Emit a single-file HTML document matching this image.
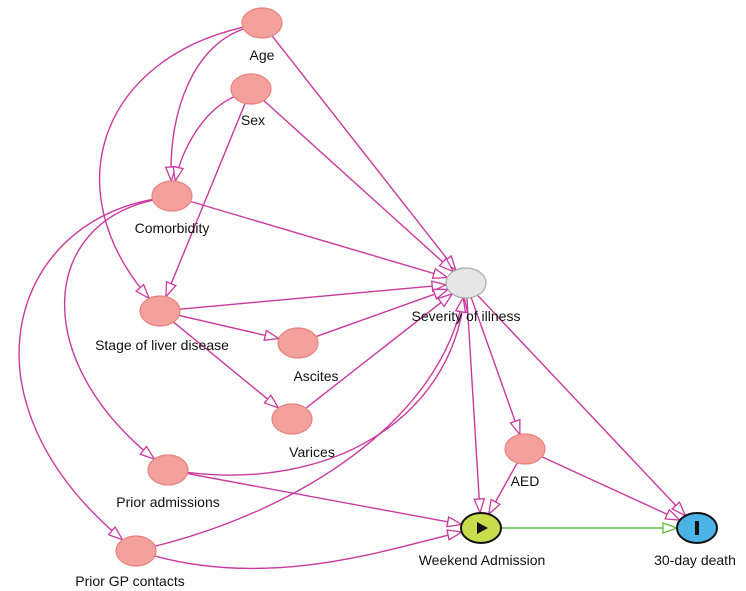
<!DOCTYPE html>
<html><head><meta charset="utf-8"><style>
html,body{margin:0;padding:0;background:#fff;}
svg{display:block;}
text{font-family:"Liberation Sans",sans-serif;font-size:14px;fill:#111;text-anchor:middle;}
</style></head><body>
<svg id="s" width="746" height="591" viewBox="0 0 746 591" xmlns="http://www.w3.org/2000/svg">
<defs>
<marker id="m" markerWidth="16" markerHeight="12" refX="15" refY="6" orient="auto" markerUnits="userSpaceOnUse">
<path d="M1,1 L15,6 L1,11 Z" fill="#fff" stroke="#c9399e" stroke-width="1.3"/></marker>
<marker id="g" markerWidth="16" markerHeight="12" refX="15" refY="6" orient="auto" markerUnits="userSpaceOnUse">
<path d="M1,1 L15,6 L1,11 Z" fill="#fff" stroke="#5bbf3a" stroke-width="1.3"/></marker>
</defs>
<g id="edges"></g>
<g id="nodes"></g>
</svg>
<script>
var N={
age:[262,23,'Age',262,60],
sex:[251,89,'Sex',253,125],
com:[172,196,'Comorbidity',172,233],
stg:[160,311,'Stage of liver disease',162,350],
asc:[298,343,'Ascites',316,381],
var:[292,419,'Varices',312,457],
sev:[466,283,'Severity of illness',466,321],
pad:[168,470,'Prior admissions',168,507],
aed:[525,449,'AED',525,486],
wk:[481,528,'Weekend Admission',482,565],
dth:[697,528,'30-day death',695,565],
gp:[136,551,'Prior GP contacts',130,586]
};
var RX=20,RY=15;
function clip(n,fx,fy){var c=N[n];var dx=fx-c[0],dy=fy-c[1];var t=1/Math.sqrt(dx*dx/(RX*RX)+dy*dy/(RY*RY));return [c[0]+dx*t,c[1]+dy*t];}
var E=[
['age','com',[195,45,168,110]],['age','stg',[100,60,55,190]],['age','sev'],
['sex','com',[205,110,183,145]],['sex','stg'],['sex','sev'],
['com','sev'],['com','pad',[40,225,30,360]],['com','gp',[10,225,-45,400]],
['stg','sev'],['stg','asc'],['stg','var'],
['asc','sev'],['var','sev'],
['pad','sev',[330,490,450,420]],['gp','sev',[300,510,440,420]],
['sev','wk'],['sev','aed'],['sev','dth'],
['pad','wk'],['gp','wk',[280,590,400,545]],['aed','wk'],['aed','dth'],['wk','dth',null,1]
];
var h='';
E.forEach(function(e){var a=N[e[0]],b=N[e[1]],c=e[2];
var s,t,d;
if(c){s=clip(e[0],c[0],c[1]);t=clip(e[1],c[2],c[3]);d='M'+s+' C'+c[0]+','+c[1]+' '+c[2]+','+c[3]+' '+t;}
else{s=clip(e[0],b[0],b[1]);t=clip(e[1],a[0],a[1]);d='M'+s+' L'+t;}
var col=e[3]?'#5bbf3a':'#c9399e';
h+='<path d="'+d+'" fill="none" stroke="'+col+'" stroke-width="1.4" marker-end="url(#'+(e[3]?'g':'m')+')"/>';});
document.getElementById('edges').innerHTML=h;
var k='';
for(var n in N){var c=N[n];var fill='#f4a09c',st='#e8827d',sw=1.2;
if(n=='sev'){fill='#e6e6e6';st='#aaa';}
if(n=='wk'){fill='#c9dc4a';st='#111';sw=2;}
if(n=='dth'){fill='#4bb3e6';st='#111';sw=2;}
k+='<ellipse cx="'+c[0]+'" cy="'+c[1]+'" rx="'+RX+'" ry="'+RY+'" fill="'+fill+'" stroke="'+st+'" stroke-width="'+sw+'"/>';
k+='<text x="'+c[3]+'" y="'+c[4]+'">'+c[2]+'</text>';}
k+='<path d="M477,522 L488,528 L477,534 Z" fill="#111"/><rect x="695" y="521" width="4" height="14" fill="#111"/>';
document.getElementById('nodes').innerHTML=k;
</script>
</body></html>
